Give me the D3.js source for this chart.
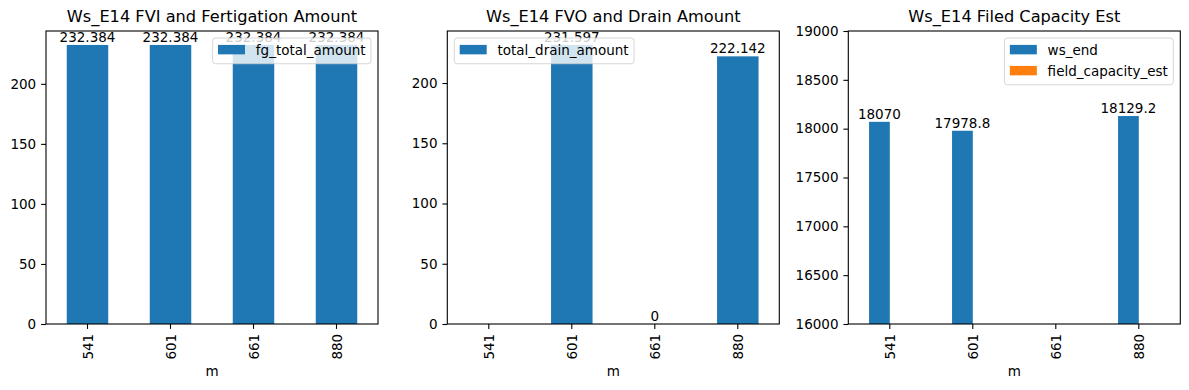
<!DOCTYPE html>
<html>
<head>
<meta charset="utf-8">
<style>
  body { margin: 0; background: #fff; }
  svg text { font-family: "DejaVu Sans", sans-serif; fill: #000; }
</style>
</head>
<body>
<div id="area"></div>
<script src="https://d3js.org/d3.v7.min.js"></script>
<script>
// data
const categories = ["541", "601", "661", "880"];
const fgTotalAmount = [232.384, 232.384, 232.384, 232.384];
const totalDrainAmount = [null, 231.597, 0, 222.142];
const wsEnd = [18070, 17978.8, null, 18129.2];
const fieldCapacityEst = [null, null, null, null];
const ticksAmount = [0, 50, 100, 150, 200];
const ticksCapacity = [16000, 16500, 17000, 17500, 18000, 18500, 19000];

const width = 1189
const height = 390
const plotTop = 31
const plotBottom = 324
const fs = 13.5     // tick / legend font px
const titleFs = 16.2
const tickLen = 4.9
const blue = "#1f77b4"
const orange = "#ff7f0e"

const panels = [
  {left: 46, right: 378, title: "Ws_E14 FVI and Fertigation Amount",
   series: [{name: "fg_total_amount", values: fgTotalAmount, color: blue}],
   domain: [0, 232.384 * 1.05], ticks: ticksAmount, legend: "right"},
  {left: 447.3, right: 779.3, title: "Ws_E14 FVO and Drain Amount",
   series: [{name: "total_drain_amount", values: totalDrainAmount, color: blue}],
   domain: [0, 231.597 * 1.05], ticks: ticksAmount, legend: "left"},
  {left: 848.3, right: 1180.3, title: "Ws_E14 Filed Capacity Est",
   series: [{name: "ws_end", values: wsEnd, color: blue},
            {name: "field_capacity_est", values: fieldCapacityEst, color: orange}],
   domain: [16000, 19000], ticks: ticksCapacity, legend: "right"}
];

const svg = d3.select("#area")
  .append("svg")
    .attr("width", width)
    .attr("height", height)
    .style("display", "block");

panels.forEach((p, pi) => {
  const g = svg.append("g");
  const x = d3.scaleBand().domain(categories).range([p.left, p.right]).padding(0);
  const y = d3.scaleLinear().domain(p.domain).range([plotBottom, plotTop]);
  const sub = d3.scaleBand().domain(p.series.map(s => s.name))
      .range([x.bandwidth() * 0.25, x.bandwidth() * 0.75]);

  const clipId = "clip" + pi;
  g.append("clipPath").attr("id", clipId)
    .append("rect")
      .attr("x", p.left).attr("y", plotTop)
      .attr("width", p.right - p.left).attr("height", plotBottom - plotTop);

  // bars
  p.series.forEach(s => {
    const rows = categories.map((c, i) => ({c, v: s.values[i]})).filter(d => d.v != null);
    g.append("g").attr("clip-path", `url(#${clipId})`)
      .selectAll("rect").data(rows).join("rect")
        .attr("x", d => x(d.c) + sub(s.name))
        .attr("width", sub.bandwidth())
        .attr("y", d => y(Math.max(d.v, p.domain[0])))
        .attr("height", d => y(p.domain[0]) - y(Math.max(d.v, p.domain[0])))
        .attr("fill", s.color);
    // bar labels
    g.append("g").selectAll("text").data(rows).join("text")
        .attr("x", d => x(d.c) + sub(s.name) + sub.bandwidth() / 2)
        .attr("y", d => y(d.v) - 3)
        .attr("text-anchor", "middle")
        .attr("font-size", fs)
        .text(d => String(d.v));
  });

  // y axis
  const ya = g.append("g")
      .attr("transform", `translate(${p.left},0)`)
      .call(d3.axisLeft(y).tickValues(p.ticks).tickFormat(d3.format("d"))
        .tickSize(tickLen).tickPadding(4.9));
  ya.select(".domain").remove();
  ya.selectAll("line").attr("stroke", "#000").attr("stroke-width", 1.1);
  ya.selectAll("text").attr("font-size", fs).attr("font-family", "DejaVu Sans");

  // x axis
  const xa = g.append("g")
      .attr("transform", `translate(0,${plotBottom})`)
      .call(d3.axisBottom(x).tickSize(tickLen).tickPadding(0));
  xa.select(".domain").remove();
  xa.selectAll("line").attr("stroke", "#000").attr("stroke-width", 1.1);
  xa.selectAll("text")
      .attr("font-size", fs).attr("font-family", "DejaVu Sans")
      .attr("text-anchor", "end")
      .attr("dy", null)
      .attr("y", null)
      .attr("transform", `translate(0,${tickLen + 4.9}) rotate(-90)`)
      .attr("dominant-baseline", "central");

  // frame
  g.append("rect")
      .attr("x", p.left).attr("y", plotTop)
      .attr("width", p.right - p.left).attr("height", plotBottom - plotTop)
      .attr("fill", "none").attr("stroke", "#000").attr("stroke-width", 1.1);

  // titles
  g.append("text")
      .attr("x", (p.left + p.right) / 2).attr("y", 22)
      .attr("text-anchor", "middle").attr("font-size", titleFs)
      .text(p.title);
  g.append("text")
      .attr("x", (p.left + p.right) / 2).attr("y", 376)
      .attr("text-anchor", "middle").attr("font-size", fs)
      .text("m");

  // legend
  const lg = g.append("g");
  const box = lg.append("rect");
  const pad = 0.4 * fs, handleW = 2 * fs, gap = 0.8 * fs, rowH = 21, hTop = 6.9;
  let maxW = 0;
  const items = lg.selectAll("g.item").data(p.series).join("g").attr("class", "item");
  items.append("rect")
      .attr("x", pad).attr("y", (d, i) => hTop + i * rowH)
      .attr("width", handleW).attr("height", 0.7 * fs)
      .attr("fill", d => d.color);
  items.append("text")
      .attr("x", pad + handleW + gap).attr("y", (d, i) => hTop + i * rowH + 0.35 * fs)
      .attr("dominant-baseline", "central")
      .attr("font-size", fs)
      .text(d => d.name)
      .each(function() { maxW = Math.max(maxW, this.getComputedTextLength()); });
  const lw = pad * 2 + handleW + gap + maxW;
  const lh = hTop + (p.series.length - 1) * rowH + 0.7 * fs + 9.4;
  box.attr("width", lw).attr("height", lh).attr("rx", 3)
      .attr("fill", "#fff").attr("fill-opacity", 0.8)
      .attr("stroke", "#ccc").attr("stroke-opacity", 0.8);
  const lx = p.legend === "right" ? p.right - 7 - lw : p.left + 7;
  lg.attr("transform", `translate(${lx},${plotTop + 7})`);
});
</script>
</body>
</html>
